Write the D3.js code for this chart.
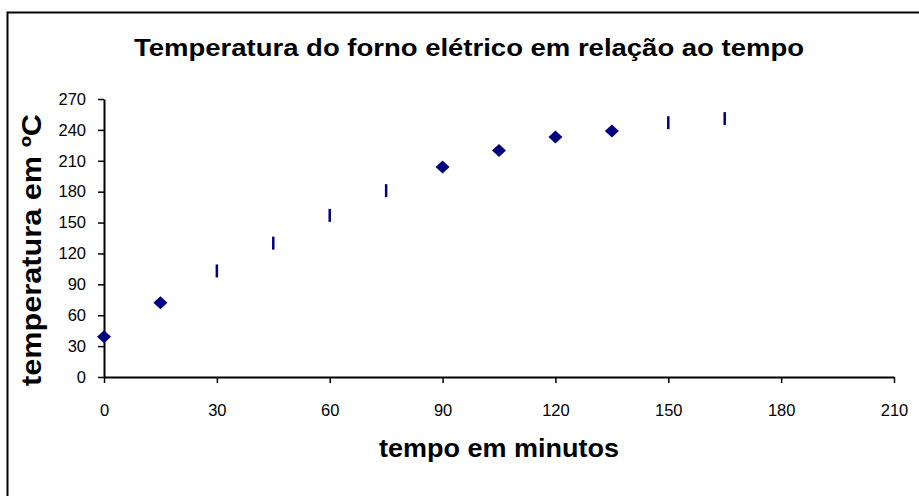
<!DOCTYPE html>
<html>
<head>
<meta charset="utf-8">
<script src="https://cdn.jsdelivr.net/npm/d3@7"></script>
<style>
  html, body { margin: 0; padding: 0; background: #fff; }
  svg { display: block; }
  text { font-family: "Liberation Sans", Arial, sans-serif; fill: #000; }
</style>
</head>
<body>
<svg id="chart" width="919" height="496"></svg>
<script>
// ---- data ----
const title = "Temperatura do forno elétrico em relação ao tempo";
const xLabel = "tempo em minutos";
const yLabel = "temperatura em ºC";
const xTicks = [0, 30, 60, 90, 120, 150, 180, 210];
const yTicks = [0, 30, 60, 90, 120, 150, 180, 210, 240, 270];
// points drawn as diamonds
const diamondTime = [0, 15, 90, 105, 120, 135];
const diamondTemp = [39, 72, 204, 220, 233, 239];
// points drawn as short vertical dashes
const dashTime = [30, 45, 60, 75, 150, 165];
const dashTemp = [103, 130, 157, 181, 247, 251];

// ---- layout ----
const svg = d3.select("#chart");
const plot = { left: 104, right: 894, top: 99, bottom: 377 };
const x = d3.scaleLinear().domain([0, 210]).range([plot.left, plot.right]);
const y = d3.scaleLinear().domain([0, 270]).range([plot.bottom, plot.top]);
const navy = "#000080";

// outer frame (extends past the right/bottom edge as in reference)
svg.append("rect")
  .attr("x", 7.5).attr("y", 12.5)
  .attr("width", 1000).attr("height", 1000)
  .attr("fill", "none").attr("stroke", "#000").attr("stroke-width", 2);

// title
svg.append("text")
  .attr("x", 469).attr("y", 56)
  .attr("text-anchor", "middle")
  .attr("font-size", 23).attr("font-weight", "bold")
  .attr("textLength", 670).attr("lengthAdjust", "spacingAndGlyphs")
  .text(title);

// axes
const xAxis = d3.axisBottom(x).tickValues(xTicks).tickSize(6).tickPadding(21).tickSizeOuter(0);
const yAxis = d3.axisLeft(y).tickValues(yTicks).tickSize(6).tickPadding(12).tickSizeOuter(0);

const gx = svg.append("g").attr("transform", `translate(0,${plot.bottom})`).call(xAxis);
const gy = svg.append("g").attr("transform", `translate(${plot.left},0)`).call(yAxis);

[gx, gy].forEach(g => {
  g.select(".domain").attr("stroke", "#000").attr("stroke-width", 2);
  g.selectAll(".tick line").attr("stroke", "#000").attr("stroke-width", 1.5);
  g.selectAll(".tick text")
    .attr("font-family", '"Liberation Sans", Arial, sans-serif')
    .attr("font-size", 16.5).attr("fill", "#000");
});

// axis titles
svg.append("text")
  .attr("x", 499).attr("y", 457)
  .attr("text-anchor", "middle")
  .attr("font-size", 26).attr("font-weight", "bold")
  .attr("textLength", 240).attr("lengthAdjust", "spacingAndGlyphs")
  .text(xLabel);

svg.append("text")
  .attr("transform", "translate(41,250) rotate(-90)")
  .attr("text-anchor", "middle")
  .attr("font-size", 27).attr("font-weight", "bold")
  .attr("textLength", 272).attr("lengthAdjust", "spacingAndGlyphs")
  .text(yLabel);

// diamonds
const diamonds = diamondTime.map((t, i) => ({ t, v: diamondTemp[i] }));
svg.append("g").selectAll("path").data(diamonds).join("path")
  .attr("transform", d => `translate(${x(d.t)},${y(d.v)})`)
  .attr("d", "M0,-6.5L7,0L0,6.5L-7,0Z")
  .attr("fill", navy);

// dashes
const dashes = dashTime.map((t, i) => ({ t, v: dashTemp[i] }));
svg.append("g").selectAll("line").data(dashes).join("line")
  .attr("x1", d => x(d.t)).attr("x2", d => x(d.t))
  .attr("y1", d => y(d.v) - 6.5).attr("y2", d => y(d.v) + 6.5)
  .attr("stroke", navy).attr("stroke-width", 2.5);
</script>
</body>
</html>
